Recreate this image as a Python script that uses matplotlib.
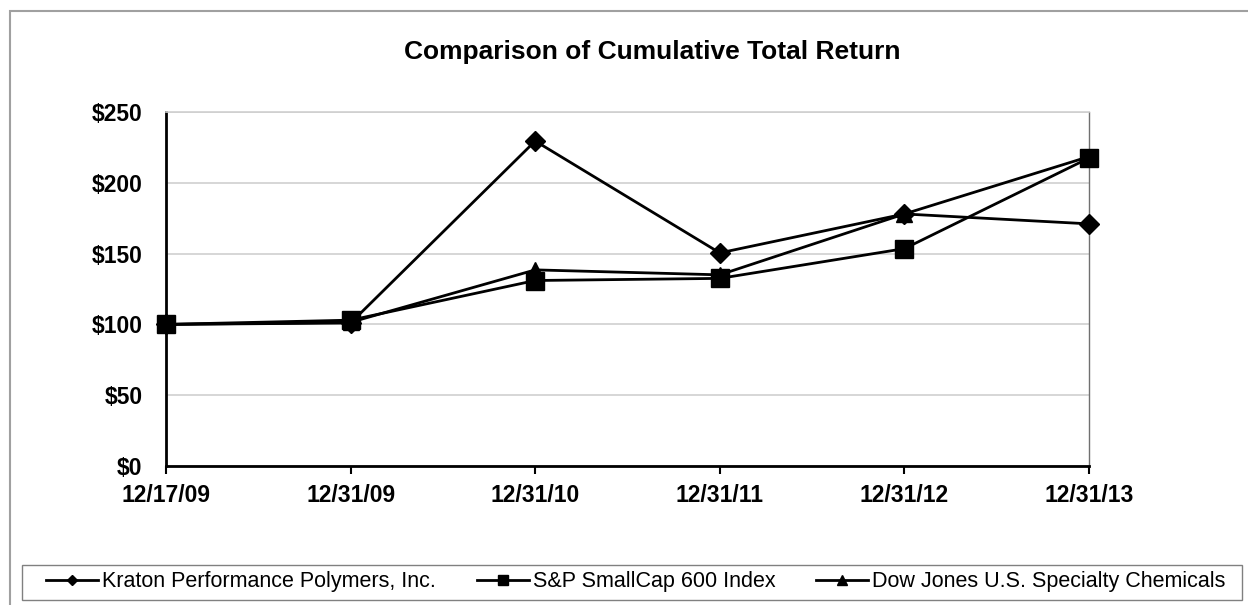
import matplotlib
matplotlib.use('Agg')
from matplotlib import pyplot as plt
from matplotlib.patches import Rectangle

plt.rcParams['font.family'] = ['Liberation Sans', 'DejaVu Sans']

dates = ['12/17/09', '12/31/09', '12/31/10', '12/31/11', '12/31/12', '12/31/13']
kraton = [100.0, 101.0, 229.5, 150.5, 178.0, 171.0]
sp600 = [100.0, 103.0, 131.0, 132.5, 153.5, 217.5]
dowjones = [100.0, 101.5, 138.5, 135.0, 178.0, 218.5]

series = [
    ('Kraton Performance Polymers, Inc.', kraton, 'D', 10),
    ('S&P SmallCap 600 Index', sp600, 's', 13),
    ('Dow Jones U.S. Specialty Chemicals', dowjones, '^', 12),
]

fig = plt.figure(figsize=(12.48, 6.05), dpi=100)
ax = fig.add_axes([166 / 1248, 1 - 466 / 605, (1089 - 166) / 1248, (466 - 112) / 605])

x = list(range(len(dates)))
for label, vals, marker, ms in series:
    ax.plot(x, vals, color='black', lw=2, marker=marker, markersize=ms, label=label,
            clip_on=False, zorder=3)

ax.set_xlim(0, len(dates) - 1)
ax.set_ylim(0, 250)
ax.set_yticks(range(0, 251, 50))
ax.set_yticklabels(['$%d' % v for v in range(0, 251, 50)])
ax.set_xticks(x)
ax.set_xticklabels(dates)
for lbl in ax.get_xticklabels() + ax.get_yticklabels():
    lbl.set_fontweight('bold')
    lbl.set_fontsize(16.5)
ax.tick_params(axis='y', length=0, pad=17)
ax.tick_params(axis='x', length=6, width=1.5, direction='out', pad=7)

ax.grid(axis='y', color='#cfcfcf', lw=1.2)
ax.set_axisbelow(True)
ax.spines['left'].set_linewidth(2)
ax.spines['bottom'].set_linewidth(2)
ax.spines['top'].set_color('#cfcfcf')
ax.spines['top'].set_linewidth(1.2)
ax.spines['right'].set_color('#707070')
ax.spines['right'].set_linewidth(1)

fig.text(652 / 1248, 1 - 52 / 605, 'Comparison of Cumulative Total Return', ha='center', va='center',
         fontsize=19, fontweight='bold')

# outer border and legend box
fig.patches.append(Rectangle((10 / 1248, -0.02), 1.02, 1 - 11 / 605 + 0.02, transform=fig.transFigure,
                             fill=False, edgecolor='#a0a0a0', lw=1.5))
fig.patches.append(Rectangle((22 / 1248, 1 - 600 / 605), (1242 - 22) / 1248, 35 / 605,
                             transform=fig.transFigure, fill=False, edgecolor='#808080', lw=1))

handles, labels = ax.get_legend_handles_labels()
leg = fig.legend(handles, labels, loc='center', bbox_to_anchor=(636 / 1248, 1 - 582 / 605), ncol=3,
                 frameon=False, fontsize=15.5, markerscale=0.55, handlelength=2.4, handletextpad=0.2,
                 columnspacing=1.9)

fig.savefig('out.png', dpi=100)
